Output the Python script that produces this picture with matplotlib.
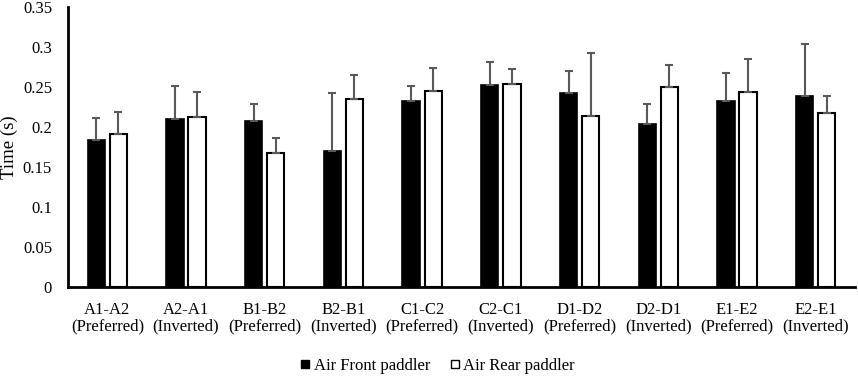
import numpy as np
import matplotlib
matplotlib.use("Agg")
import matplotlib.pyplot as plt
from matplotlib.lines import Line2D

plt.rcParams['font.family'] = ['Liberation Serif', 'DejaVu Serif']

pairs = ['A1-A2', 'A2-A1', 'B1-B2', 'B2-B1', 'C1-C2',
         'C2-C1', 'D1-D2', 'D2-D1', 'E1-E2', 'E2-E1']
modes = ['Preferred', 'Inverted'] * 5
front = [0.184, 0.210, 0.208, 0.170, 0.232, 0.252, 0.243, 0.204, 0.233, 0.239]
front_sd = [0.027, 0.041, 0.021, 0.073, 0.019, 0.029, 0.027, 0.025, 0.035, 0.065]
rear = [0.191, 0.213, 0.168, 0.235, 0.245, 0.254, 0.214, 0.250, 0.244, 0.218]
rear_sd = [0.028, 0.031, 0.018, 0.030, 0.029, 0.019, 0.079, 0.028, 0.041, 0.021]

labels = [p + '\n(' + m + ')' for p, m in zip(pairs, modes)]
x = np.arange(len(pairs))
w = 0.22
off = 0.14

fig = plt.figure(figsize=(8.58, 3.76), dpi=100)
ax = fig.add_axes([68/858, 1-287/376, (855-68)/858, 280/376])

err_kw = dict(ecolor='#595959', elinewidth=1.5, capsize=3, capthick=1.5)
ax.bar(x - off, front, w, color='black', edgecolor='black', linewidth=1.2,
       yerr=[np.zeros(len(front)), front_sd], error_kw=err_kw, label='Air Front paddler')
ax.bar(x + off, rear, w, color='white', edgecolor='black', linewidth=1.5,
       yerr=[np.zeros(len(rear)), rear_sd], error_kw=err_kw, label='Air Rear paddler')

ax.set_xlim(-0.5, len(pairs) - 0.5)
ax.set_ylim(0, 0.35)
ax.set_yticks(np.arange(0, 0.351, 0.05))
ax.set_yticklabels(['0', '0.05', '0.1', '0.15', '0.2', '0.25', '0.3', '0.35'])
ax.set_xticks(x)
ax.set_xticklabels(labels, linespacing=1.05)
ax.tick_params(axis='y', length=0, labelsize=12, pad=11.5)
ax.tick_params(axis='x', length=0, labelsize=12, pad=10.5)
ax.set_ylabel('Time (s)', fontsize=13.5)
ax.yaxis.set_label_coords((18-68)/787, 0.5)

ax.spines['top'].set_visible(False)
ax.spines['right'].set_visible(False)
ax.spines['left'].set_linewidth(2)
ax.spines['bottom'].set_linewidth(2)

handles = [Line2D([], [], marker='s', color='black', markerfacecolor='black', ls='', ms=6),
           Line2D([], [], marker='s', color='black', markerfacecolor='white', ls='', ms=6, mew=1)]
fig.legend(handles, ['Air Front paddler', 'Air Rear paddler'], loc='center',
           bbox_to_anchor=(436/858, 1-366/376), ncol=2, frameon=False, fontsize=12,
           handletextpad=0.0, columnspacing=1.0, handlelength=1.0, borderpad=0)

fig.savefig('out.png', dpi=100)
